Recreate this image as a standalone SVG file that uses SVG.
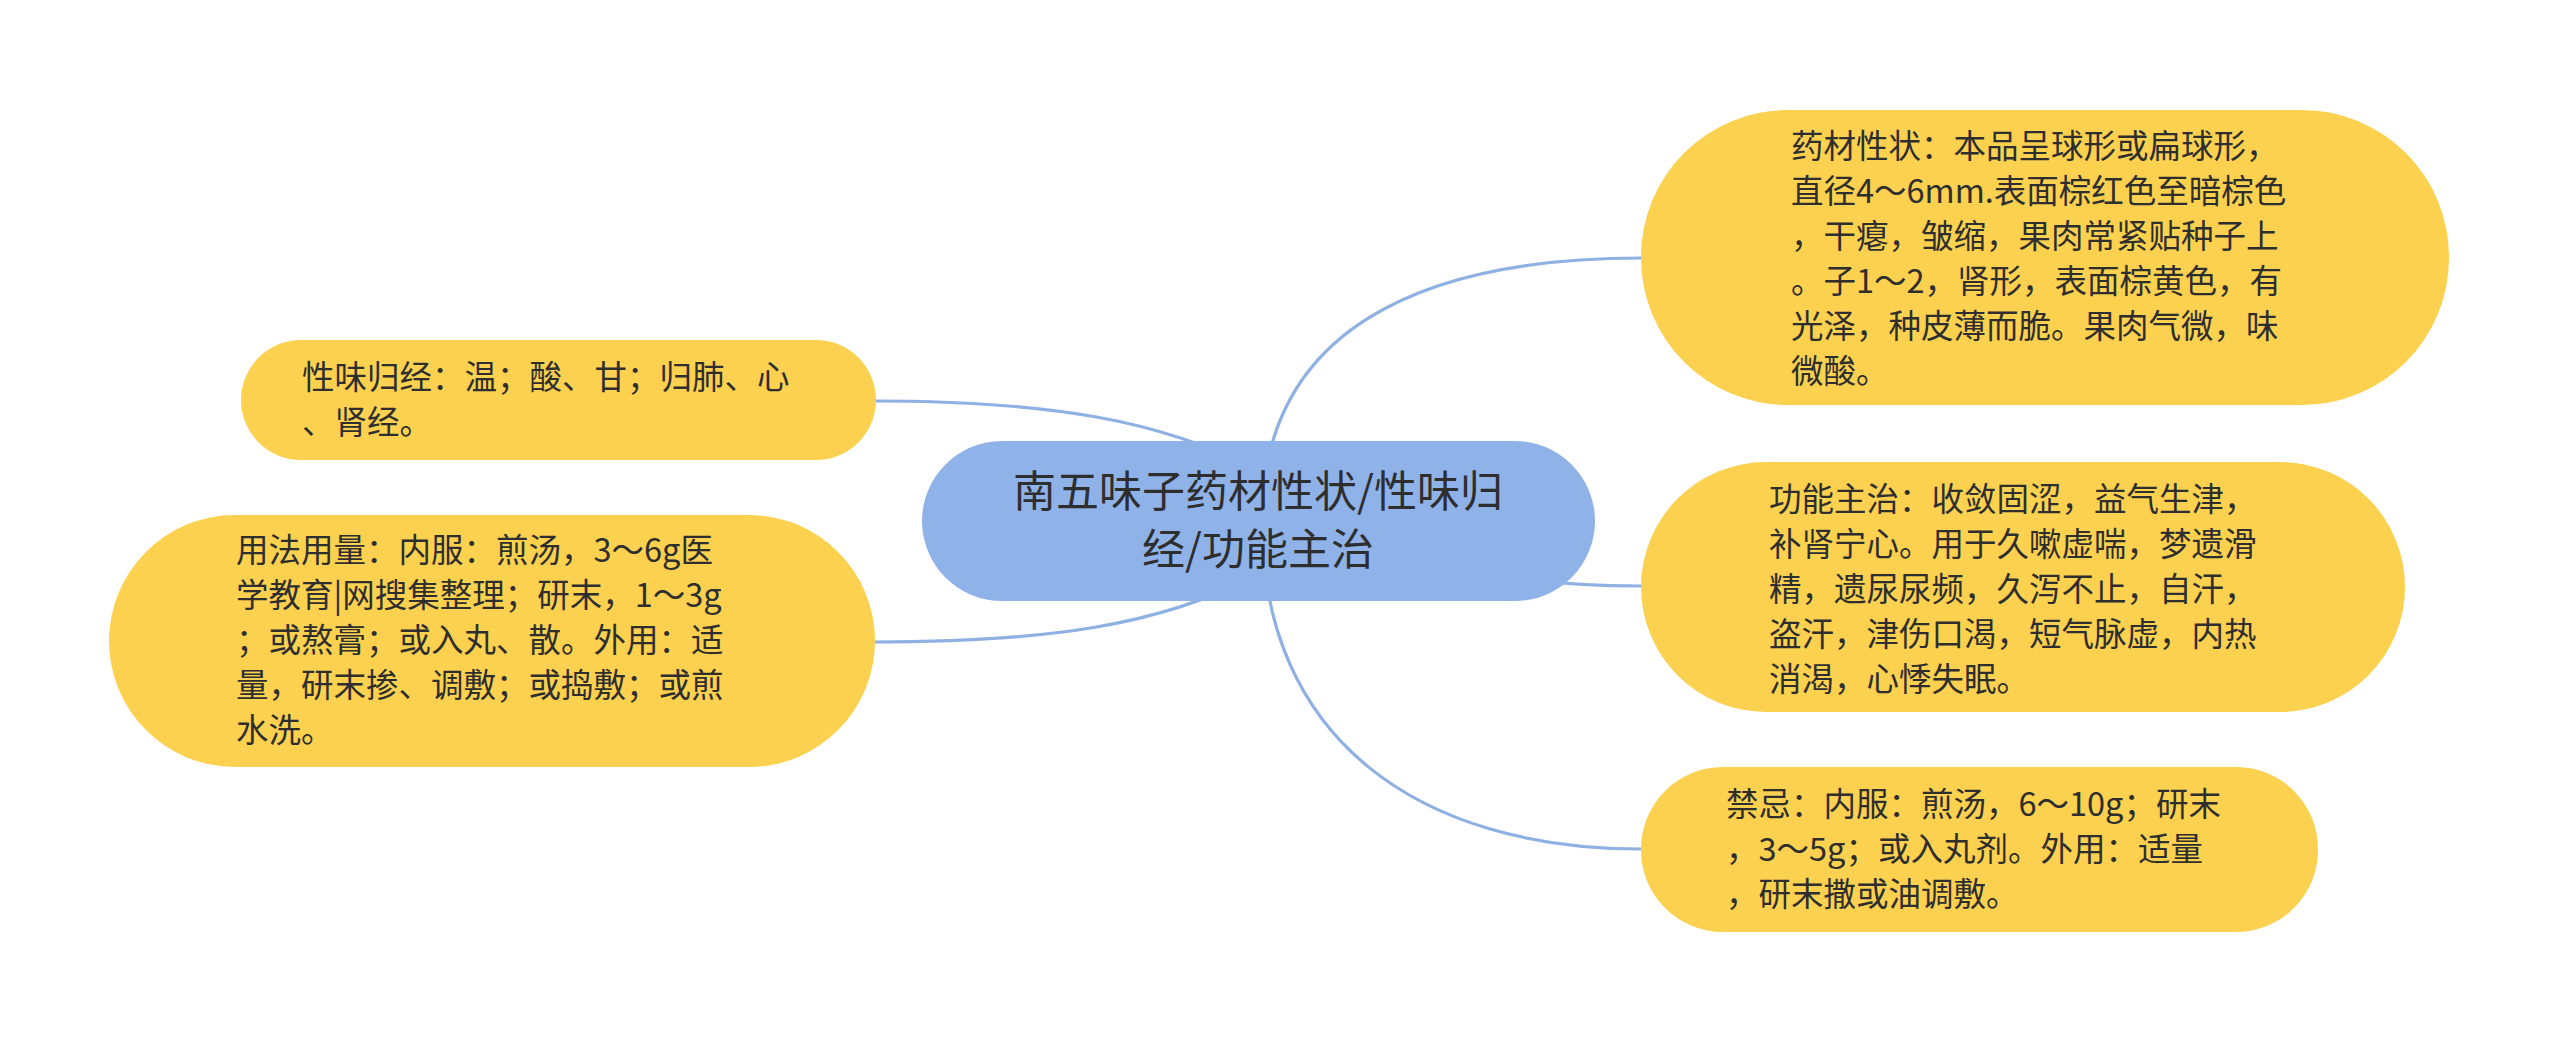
<svg xmlns="http://www.w3.org/2000/svg" width="2560" height="1042" viewBox="0 0 2560 1042">
<style>
.bg{fill:#ffffff}
.conn{fill:none;stroke:#8eb0e3;stroke-width:3.2;stroke-linecap:round}
.root{fill:#8fb3e9}
.leaf{fill:#fcd14f}
.t{font-family:"Noto Sans CJK SC","Noto Sans",sans-serif;fill:#2e2e2e}
.rt{font-size:43px;text-anchor:middle}
.lt{font-size:32.5px}
</style>
<rect class="bg" x="0" y="0" width="2560" height="1042"/>
<g id="connectors">
<path class="conn" d="M1262,521 C1262,330 1420,258 1641,258"/>
<path class="conn" d="M1262,521 C1350,521 1420,586 1641,586"/>
<path class="conn" d="M1262,521 C1262,740 1420,849 1641,849"/>
<path class="conn" d="M873,401 C1050,401 1160,420 1258,470"/>
<path class="conn" d="M873,642 C1050,642 1160,625 1258,575"/>
</g>
<g id="root">
<rect class="root" x="922" y="441" width="673" height="160" rx="80"/>
<text class="t rt" x="1258" y="507">南五味子药材性状/性味归</text>
<text class="t rt" x="1258" y="565">经/功能主治</text>
</g>
<g id="node-xingzhuang">
<rect class="leaf" x="1641" y="110" width="808" height="295" rx="147"/>
<text class="t lt" x="1791" y="158">药材性状：本品呈球形或扁球形，</text>
<text class="t lt" x="1791" y="203">直径4～6mm.表面棕红色至暗棕色</text>
<text class="t lt" x="1791" y="248">，干瘪，皱缩，果肉常紧贴种子上</text>
<text class="t lt" x="1791" y="293">。子1～2，肾形，表面棕黄色，有</text>
<text class="t lt" x="1791" y="338">光泽，种皮薄而脆。果肉气微，味</text>
<text class="t lt" x="1791" y="383">微酸。</text>
</g>
<g id="node-gongneng">
<rect class="leaf" x="1641" y="462" width="764" height="250" rx="125"/>
<text class="t lt" x="1769" y="511">功能主治：收敛固涩，益气生津，</text>
<text class="t lt" x="1769" y="556">补肾宁心。用于久嗽虚喘，梦遗滑</text>
<text class="t lt" x="1769" y="601">精，遗尿尿频，久泻不止，自汗，</text>
<text class="t lt" x="1769" y="646">盗汗，津伤口渴，短气脉虚，内热</text>
<text class="t lt" x="1769" y="691">消渴，心悸失眠。</text>
</g>
<g id="node-jinji">
<rect class="leaf" x="1641" y="767" width="677" height="165" rx="82"/>
<text class="t lt" x="1726" y="816">禁忌：内服：煎汤，6～10g；研末</text>
<text class="t lt" x="1726" y="861">，3～5g；或入丸剂。外用：适量</text>
<text class="t lt" x="1726" y="906">，研末撒或油调敷。</text>
</g>
<g id="node-xingwei">
<rect class="leaf" x="241" y="340" width="635" height="120" rx="60"/>
<text class="t lt" x="302" y="389">性味归经：温；酸、甘；归肺、心</text>
<text class="t lt" x="302" y="434">、肾经。</text>
</g>
<g id="node-yongfa">
<rect class="leaf" x="109" y="515" width="766" height="252" rx="126"/>
<text class="t lt" x="236" y="562">用法用量：内服：煎汤，3～6g医</text>
<text class="t lt" x="236" y="607">学教育|网搜集整理；研末，1～3g</text>
<text class="t lt" x="236" y="652">；或熬膏；或入丸、散。外用：适</text>
<text class="t lt" x="236" y="697">量，研末掺、调敷；或捣敷；或煎</text>
<text class="t lt" x="236" y="742">水洗。</text>
</g>
</svg>
